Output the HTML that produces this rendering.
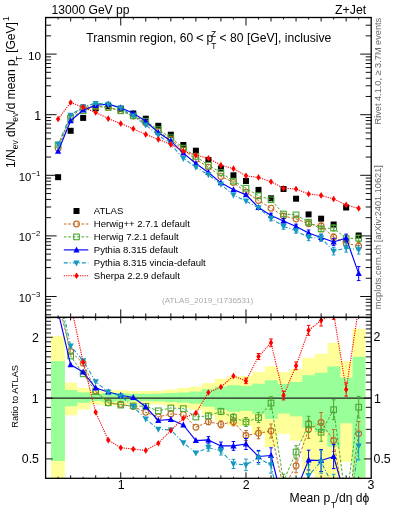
<!DOCTYPE html><html><head><meta charset="utf-8"><style>html,body{margin:0;padding:0;background:#fff;width:393px;height:512px;overflow:hidden}svg{display:block;will-change:transform}text{font-family:"Liberation Sans",sans-serif}</style></head><body>
<svg width="393" height="512" viewBox="0 0 393 512">
<defs><clipPath id="cu"><rect x="45.60" y="17.50" width="325.60" height="299.90"/></clipPath>
<clipPath id="cl"><rect x="45.60" y="317.40" width="325.60" height="160.90"/></clipPath></defs>
<g clip-path="url(#cl)">
<rect x="51.00" y="336.10" width="13.90" height="147.20" fill="#ffff99"/><rect x="64.38" y="382.70" width="13.02" height="32.60" fill="#ffff99"/><rect x="76.91" y="387.90" width="13.02" height="21.50" fill="#ffff99"/><rect x="89.43" y="390.80" width="13.02" height="13.76" fill="#ffff99"/><rect x="101.95" y="390.00" width="13.02" height="15.52" fill="#ffff99"/><rect x="114.48" y="390.20" width="13.02" height="15.08" fill="#ffff99"/><rect x="127.00" y="391.00" width="13.02" height="13.33" fill="#ffff99"/><rect x="139.52" y="391.00" width="13.02" height="13.33" fill="#ffff99"/><rect x="152.05" y="390.80" width="13.02" height="13.76" fill="#ffff99"/><rect x="164.57" y="389.50" width="13.02" height="16.64" fill="#ffff99"/><rect x="177.09" y="388.00" width="13.02" height="20.02" fill="#ffff99"/><rect x="189.62" y="386.50" width="13.02" height="23.47" fill="#ffff99"/><rect x="202.14" y="383.10" width="13.02" height="31.60" fill="#ffff99"/><rect x="214.66" y="378.80" width="13.02" height="42.58" fill="#ffff99"/><rect x="227.18" y="376.30" width="13.02" height="49.37" fill="#ffff99"/><rect x="239.71" y="376.10" width="13.02" height="49.93" fill="#ffff99"/><rect x="252.23" y="371.80" width="13.02" height="62.53" fill="#ffff99"/><rect x="264.75" y="366.20" width="13.02" height="81.04" fill="#ffff99"/><rect x="277.28" y="372.00" width="13.02" height="61.92" fill="#ffff99"/><rect x="289.80" y="368.90" width="13.02" height="71.78" fill="#ffff99"/><rect x="302.32" y="357.80" width="13.02" height="115.55" fill="#ffff99"/><rect x="314.85" y="353.80" width="13.02" height="129.50" fill="#ffff99"/><rect x="327.37" y="342.90" width="13.02" height="140.40" fill="#ffff99"/><rect x="339.89" y="361.10" width="13.02" height="100.74" fill="#ffff99"/><rect x="352.42" y="328.80" width="13.02" height="154.50" fill="#ffff99"/>
<rect x="51.00" y="361.10" width="13.90" height="99.90" fill="#99ff99"/><rect x="64.38" y="390.00" width="13.02" height="16.30" fill="#99ff99"/><rect x="76.91" y="392.40" width="13.02" height="10.40" fill="#99ff99"/><rect x="89.43" y="394.00" width="13.02" height="6.90" fill="#99ff99"/><rect x="101.95" y="393.00" width="13.02" height="9.01" fill="#99ff99"/><rect x="114.48" y="393.50" width="13.02" height="7.95" fill="#99ff99"/><rect x="127.00" y="393.80" width="13.02" height="7.32" fill="#99ff99"/><rect x="139.52" y="393.80" width="13.02" height="7.32" fill="#99ff99"/><rect x="152.05" y="393.60" width="13.02" height="7.74" fill="#99ff99"/><rect x="164.57" y="393.00" width="13.02" height="9.01" fill="#99ff99"/><rect x="177.09" y="392.50" width="13.02" height="10.08" fill="#99ff99"/><rect x="189.62" y="391.50" width="13.02" height="12.24" fill="#99ff99"/><rect x="202.14" y="389.00" width="13.02" height="17.75" fill="#99ff99"/><rect x="214.66" y="386.50" width="13.02" height="23.47" fill="#99ff99"/><rect x="227.18" y="385.20" width="13.02" height="26.53" fill="#99ff99"/><rect x="239.71" y="385.80" width="13.02" height="25.11" fill="#99ff99"/><rect x="252.23" y="383.80" width="13.02" height="29.89" fill="#99ff99"/><rect x="264.75" y="380.30" width="13.02" height="38.66" fill="#99ff99"/><rect x="277.28" y="383.90" width="13.02" height="29.65" fill="#99ff99"/><rect x="289.80" y="382.00" width="13.02" height="34.33" fill="#99ff99"/><rect x="302.32" y="375.20" width="13.02" height="52.47" fill="#99ff99"/><rect x="314.85" y="372.80" width="13.02" height="59.50" fill="#99ff99"/><rect x="327.37" y="366.40" width="13.02" height="80.33" fill="#99ff99"/><rect x="339.89" y="377.70" width="13.02" height="45.53" fill="#99ff99"/><rect x="352.42" y="356.80" width="13.02" height="120.46" fill="#99ff99"/>
<line x1="45.60" y1="398.10" x2="371.20" y2="398.10" stroke="#222" stroke-width="1.2"/>
</g>
<g clip-path="url(#cl)"><polyline points="58.12,302.00 70.65,351.50 83.17,363.20 95.69,390.80 108.22,402.80 120.74,404.30 133.26,406.60 145.78,412.30 158.31,416.90 170.83,414.00 183.35,414.60 195.88,427.20 208.40,421.80 220.92,424.40 233.45,421.80 245.97,435.50 258.49,433.30 271.02,431.00 283.54,488.00 296.06,465.80 308.58,429.30 321.11,422.50 333.63,440.50 346.15,517.00 358.68,433.60" fill="none" stroke="#c06a22" stroke-width="1.0" stroke-dasharray="2.7,1.7" stroke-linejoin="round"/><path d="M208.40 418.80L208.40 424.80M206.60 418.80L210.20 418.80M206.60 424.80L210.20 424.80M220.92 420.90L220.92 427.90M219.12 420.90L222.72 420.90M219.12 427.90L222.72 427.90M233.45 417.80L233.45 425.80M231.65 417.80L235.25 417.80M231.65 425.80L235.25 425.80M245.97 430.50L245.97 440.50M244.17 430.50L247.77 430.50M244.17 440.50L247.77 440.50M258.49 427.80L258.49 438.80M256.69 427.80L260.29 427.80M256.69 438.80L260.29 438.80M271.02 424.00L271.02 438.00M269.22 424.00L272.82 424.00M269.22 438.00L272.82 438.00M283.54 480.00L283.54 496.00M281.74 480.00L285.34 480.00M281.74 496.00L285.34 496.00M296.06 458.80L296.06 472.80M294.26 458.80L297.86 458.80M294.26 472.80L297.86 472.80M308.58 420.30L308.58 438.30M306.78 420.30L310.38 420.30M306.78 438.30L310.38 438.30M321.11 412.50L321.11 432.50M319.31 412.50L322.91 412.50M319.31 432.50L322.91 432.50M333.63 429.50L333.63 451.50M331.83 429.50L335.43 429.50M331.83 451.50L335.43 451.50M346.15 505.00L346.15 529.00M344.35 505.00L347.95 505.00M344.35 529.00L347.95 529.00M358.68 421.60L358.68 445.60M356.88 421.60L360.48 421.60M356.88 445.60L360.48 445.60" stroke="#c06a22" stroke-width="1" fill="none"/><circle cx="70.65" cy="351.50" r="2.9" fill="none" stroke="#c06a22" stroke-width="1.1"/><circle cx="83.17" cy="363.20" r="2.9" fill="none" stroke="#c06a22" stroke-width="1.1"/><circle cx="95.69" cy="390.80" r="2.9" fill="none" stroke="#c06a22" stroke-width="1.1"/><circle cx="108.22" cy="402.80" r="2.9" fill="none" stroke="#c06a22" stroke-width="1.1"/><circle cx="120.74" cy="404.30" r="2.9" fill="none" stroke="#c06a22" stroke-width="1.1"/><circle cx="133.26" cy="406.60" r="2.9" fill="none" stroke="#c06a22" stroke-width="1.1"/><circle cx="145.78" cy="412.30" r="2.9" fill="none" stroke="#c06a22" stroke-width="1.1"/><circle cx="158.31" cy="416.90" r="2.9" fill="none" stroke="#c06a22" stroke-width="1.1"/><circle cx="170.83" cy="414.00" r="2.9" fill="none" stroke="#c06a22" stroke-width="1.1"/><circle cx="183.35" cy="414.60" r="2.9" fill="none" stroke="#c06a22" stroke-width="1.1"/><circle cx="195.88" cy="427.20" r="2.9" fill="none" stroke="#c06a22" stroke-width="1.1"/><circle cx="208.40" cy="421.80" r="2.9" fill="none" stroke="#c06a22" stroke-width="1.1"/><circle cx="220.92" cy="424.40" r="2.9" fill="none" stroke="#c06a22" stroke-width="1.1"/><circle cx="233.45" cy="421.80" r="2.9" fill="none" stroke="#c06a22" stroke-width="1.1"/><circle cx="245.97" cy="435.50" r="2.9" fill="none" stroke="#c06a22" stroke-width="1.1"/><circle cx="258.49" cy="433.30" r="2.9" fill="none" stroke="#c06a22" stroke-width="1.1"/><circle cx="271.02" cy="431.00" r="2.9" fill="none" stroke="#c06a22" stroke-width="1.1"/><circle cx="296.06" cy="465.80" r="2.9" fill="none" stroke="#c06a22" stroke-width="1.1"/><circle cx="308.58" cy="429.30" r="2.9" fill="none" stroke="#c06a22" stroke-width="1.1"/><circle cx="321.11" cy="422.50" r="2.9" fill="none" stroke="#c06a22" stroke-width="1.1"/><circle cx="333.63" cy="440.50" r="2.9" fill="none" stroke="#c06a22" stroke-width="1.1"/><circle cx="358.68" cy="433.60" r="2.9" fill="none" stroke="#c06a22" stroke-width="1.1"/></g>
<g clip-path="url(#cl)"><polyline points="58.12,290.40 70.65,356.00 83.17,373.80 95.69,391.60 108.22,402.80 120.74,405.10 133.26,405.90 145.78,406.40 158.31,410.80 170.83,408.00 183.35,408.60 195.88,417.00 208.40,415.80 220.92,411.50 233.45,417.50 245.97,422.00 258.49,417.60 271.02,403.00 283.54,481.40 296.06,452.00 308.58,424.40 321.11,432.30 333.63,409.70 346.15,501.80 358.68,407.20" fill="none" stroke="#4aa832" stroke-width="1.0" stroke-dasharray="2.7,1.7" stroke-linejoin="round"/><path d="M208.40 413.10L208.40 418.50M206.60 413.10L210.20 413.10M206.60 418.50L210.20 418.50M220.92 408.35L220.92 414.65M219.12 408.35L222.72 408.35M219.12 414.65L222.72 414.65M233.45 413.90L233.45 421.10M231.65 413.90L235.25 413.90M231.65 421.10L235.25 421.10M245.97 417.50L245.97 426.50M244.17 417.50L247.77 417.50M244.17 426.50L247.77 426.50M258.49 412.65L258.49 422.55M256.69 412.65L260.29 412.65M256.69 422.55L260.29 422.55M271.02 396.70L271.02 409.30M269.22 396.70L272.82 396.70M269.22 409.30L272.82 409.30M283.54 474.20L283.54 488.60M281.74 474.20L285.34 474.20M281.74 488.60L285.34 488.60M296.06 445.70L296.06 458.30M294.26 445.70L297.86 445.70M294.26 458.30L297.86 458.30M308.58 416.30L308.58 432.50M306.78 416.30L310.38 416.30M306.78 432.50L310.38 432.50M321.11 423.30L321.11 441.30M319.31 423.30L322.91 423.30M319.31 441.30L322.91 441.30M333.63 399.80L333.63 419.60M331.83 399.80L335.43 399.80M331.83 419.60L335.43 419.60M346.15 491.00L346.15 512.60M344.35 491.00L347.95 491.00M344.35 512.60L347.95 512.60M358.68 396.40L358.68 418.00M356.88 396.40L360.48 396.40M356.88 418.00L360.48 418.00" stroke="#4aa832" stroke-width="1" fill="none"/><rect x="67.85" y="353.20" width="5.6" height="5.6" fill="none" stroke="#4aa832" stroke-width="1.1"/><rect x="80.37" y="371.00" width="5.6" height="5.6" fill="none" stroke="#4aa832" stroke-width="1.1"/><rect x="92.89" y="388.80" width="5.6" height="5.6" fill="none" stroke="#4aa832" stroke-width="1.1"/><rect x="105.42" y="400.00" width="5.6" height="5.6" fill="none" stroke="#4aa832" stroke-width="1.1"/><rect x="117.94" y="402.30" width="5.6" height="5.6" fill="none" stroke="#4aa832" stroke-width="1.1"/><rect x="130.46" y="403.10" width="5.6" height="5.6" fill="none" stroke="#4aa832" stroke-width="1.1"/><rect x="142.98" y="403.60" width="5.6" height="5.6" fill="none" stroke="#4aa832" stroke-width="1.1"/><rect x="155.51" y="408.00" width="5.6" height="5.6" fill="none" stroke="#4aa832" stroke-width="1.1"/><rect x="168.03" y="405.20" width="5.6" height="5.6" fill="none" stroke="#4aa832" stroke-width="1.1"/><rect x="180.55" y="405.80" width="5.6" height="5.6" fill="none" stroke="#4aa832" stroke-width="1.1"/><rect x="193.08" y="414.20" width="5.6" height="5.6" fill="none" stroke="#4aa832" stroke-width="1.1"/><rect x="205.60" y="413.00" width="5.6" height="5.6" fill="none" stroke="#4aa832" stroke-width="1.1"/><rect x="218.12" y="408.70" width="5.6" height="5.6" fill="none" stroke="#4aa832" stroke-width="1.1"/><rect x="230.65" y="414.70" width="5.6" height="5.6" fill="none" stroke="#4aa832" stroke-width="1.1"/><rect x="243.17" y="419.20" width="5.6" height="5.6" fill="none" stroke="#4aa832" stroke-width="1.1"/><rect x="255.69" y="414.80" width="5.6" height="5.6" fill="none" stroke="#4aa832" stroke-width="1.1"/><rect x="268.22" y="400.20" width="5.6" height="5.6" fill="none" stroke="#4aa832" stroke-width="1.1"/><rect x="280.74" y="478.60" width="5.6" height="5.6" fill="none" stroke="#4aa832" stroke-width="1.1"/><rect x="293.26" y="449.20" width="5.6" height="5.6" fill="none" stroke="#4aa832" stroke-width="1.1"/><rect x="305.78" y="421.60" width="5.6" height="5.6" fill="none" stroke="#4aa832" stroke-width="1.1"/><rect x="318.31" y="429.50" width="5.6" height="5.6" fill="none" stroke="#4aa832" stroke-width="1.1"/><rect x="330.83" y="406.90" width="5.6" height="5.6" fill="none" stroke="#4aa832" stroke-width="1.1"/><rect x="355.88" y="404.40" width="5.6" height="5.6" fill="none" stroke="#4aa832" stroke-width="1.1"/></g>
<g clip-path="url(#cl)"><polyline points="58.12,311.80 70.65,364.80 83.17,372.10 95.69,388.00 108.22,392.00 120.74,395.20 133.26,397.50 145.78,406.80 158.31,420.50 170.83,419.40 183.35,425.00 195.88,440.60 208.40,439.90 220.92,445.90 233.45,445.90 245.97,444.00 258.49,456.50 271.02,455.50 283.54,504.80 296.06,490.80 308.58,460.10 321.11,460.50 333.63,456.50 346.15,500.00 358.68,525.00" fill="none" stroke="#0000ff" stroke-width="1.15" stroke-linejoin="round"/><path d="M208.40 436.60L208.40 443.20M206.60 436.60L210.20 436.60M206.60 443.20L210.20 443.20M220.92 442.05L220.92 449.75M219.12 442.05L222.72 442.05M219.12 449.75L222.72 449.75M233.45 441.50L233.45 450.30M231.65 441.50L235.25 441.50M231.65 450.30L235.25 450.30M245.97 438.50L245.97 449.50M244.17 438.50L247.77 438.50M244.17 449.50L247.77 449.50M258.49 450.45L258.49 462.55M256.69 450.45L260.29 450.45M256.69 462.55L260.29 462.55M271.02 447.80L271.02 463.20M269.22 447.80L272.82 447.80M269.22 463.20L272.82 463.20M283.54 496.00L283.54 513.60M281.74 496.00L285.34 496.00M281.74 513.60L285.34 513.60M296.06 483.10L296.06 498.50M294.26 483.10L297.86 483.10M294.26 498.50L297.86 498.50M308.58 450.20L308.58 470.00M306.78 450.20L310.38 450.20M306.78 470.00L310.38 470.00M321.11 449.50L321.11 471.50M319.31 449.50L322.91 449.50M319.31 471.50L322.91 471.50M333.63 444.40L333.63 468.60M331.83 444.40L335.43 444.40M331.83 468.60L335.43 468.60M346.15 486.80L346.15 513.20M344.35 486.80L347.95 486.80M344.35 513.20L347.95 513.20M358.68 511.80L358.68 538.20M356.88 511.80L360.48 511.80M356.88 538.20L360.48 538.20" stroke="#0000ff" stroke-width="1" fill="none"/><path d="M70.65 361.30L73.75 367.30L67.55 367.30Z" fill="#0000ff"/><path d="M83.17 368.60L86.27 374.60L80.07 374.60Z" fill="#0000ff"/><path d="M95.69 384.50L98.79 390.50L92.59 390.50Z" fill="#0000ff"/><path d="M108.22 388.50L111.32 394.50L105.12 394.50Z" fill="#0000ff"/><path d="M120.74 391.70L123.84 397.70L117.64 397.70Z" fill="#0000ff"/><path d="M133.26 394.00L136.36 400.00L130.16 400.00Z" fill="#0000ff"/><path d="M145.78 403.30L148.88 409.30L142.68 409.30Z" fill="#0000ff"/><path d="M158.31 417.00L161.41 423.00L155.21 423.00Z" fill="#0000ff"/><path d="M170.83 415.90L173.93 421.90L167.73 421.90Z" fill="#0000ff"/><path d="M183.35 421.50L186.45 427.50L180.25 427.50Z" fill="#0000ff"/><path d="M195.88 437.10L198.98 443.10L192.78 443.10Z" fill="#0000ff"/><path d="M208.40 436.40L211.50 442.40L205.30 442.40Z" fill="#0000ff"/><path d="M220.92 442.40L224.02 448.40L217.82 448.40Z" fill="#0000ff"/><path d="M233.45 442.40L236.55 448.40L230.35 448.40Z" fill="#0000ff"/><path d="M245.97 440.50L249.07 446.50L242.87 446.50Z" fill="#0000ff"/><path d="M258.49 453.00L261.59 459.00L255.39 459.00Z" fill="#0000ff"/><path d="M271.02 452.00L274.12 458.00L267.92 458.00Z" fill="#0000ff"/><path d="M308.58 456.60L311.68 462.60L305.48 462.60Z" fill="#0000ff"/><path d="M321.11 457.00L324.21 463.00L318.01 463.00Z" fill="#0000ff"/><path d="M333.63 453.00L336.73 459.00L330.53 459.00Z" fill="#0000ff"/></g>
<g clip-path="url(#cl)"><polyline points="58.12,288.40 70.65,346.00 83.17,360.80 95.69,381.70 108.22,392.10 120.74,396.00 133.26,406.60 145.78,418.90 158.31,429.30 170.83,430.00 183.35,442.70 195.88,453.00 208.40,447.60 220.92,451.00 233.45,463.90 245.97,464.90 258.49,457.90 271.02,465.10 283.54,523.00 296.06,505.00 308.58,475.40 321.11,461.70 333.63,487.00 346.15,533.00 358.68,446.00" fill="none" stroke="#1598c0" stroke-width="1.1" stroke-dasharray="4,2,1,2" stroke-linejoin="round"/><path d="M208.40 444.15L208.40 451.05M206.60 444.15L210.20 444.15M206.60 451.05L210.20 451.05M220.92 446.98L220.92 455.02M219.12 446.98L222.72 446.98M219.12 455.02L222.72 455.02M233.45 459.30L233.45 468.50M231.65 459.30L235.25 459.30M231.65 468.50L235.25 468.50M245.97 459.15L245.97 470.65M244.17 459.15L247.77 459.15M244.17 470.65L247.77 470.65M258.49 451.57L258.49 464.22M256.69 451.57L260.29 451.57M256.69 464.22L260.29 464.22M271.02 457.05L271.02 473.15M269.22 457.05L272.82 457.05M269.22 473.15L272.82 473.15M283.54 513.80L283.54 532.20M281.74 513.80L285.34 513.80M281.74 532.20L285.34 532.20M296.06 496.95L296.06 513.05M294.26 496.95L297.86 496.95M294.26 513.05L297.86 513.05M308.58 465.05L308.58 485.75M306.78 465.05L310.38 465.05M306.78 485.75L310.38 485.75M321.11 450.20L321.11 473.20M319.31 450.20L322.91 450.20M319.31 473.20L322.91 473.20M333.63 474.35L333.63 499.65M331.83 474.35L335.43 474.35M331.83 499.65L335.43 499.65M346.15 519.20L346.15 546.80M344.35 519.20L347.95 519.20M344.35 546.80L347.95 546.80M358.68 432.20L358.68 459.80M356.88 432.20L360.48 432.20M356.88 459.80L360.48 459.80" stroke="#1598c0" stroke-width="1" fill="none"/><path d="M70.65 349.50L73.75 343.50L67.55 343.50Z" fill="#1598c0"/><path d="M83.17 364.30L86.27 358.30L80.07 358.30Z" fill="#1598c0"/><path d="M95.69 385.20L98.79 379.20L92.59 379.20Z" fill="#1598c0"/><path d="M108.22 395.60L111.32 389.60L105.12 389.60Z" fill="#1598c0"/><path d="M120.74 399.50L123.84 393.50L117.64 393.50Z" fill="#1598c0"/><path d="M133.26 410.10L136.36 404.10L130.16 404.10Z" fill="#1598c0"/><path d="M145.78 422.40L148.88 416.40L142.68 416.40Z" fill="#1598c0"/><path d="M158.31 432.80L161.41 426.80L155.21 426.80Z" fill="#1598c0"/><path d="M170.83 433.50L173.93 427.50L167.73 427.50Z" fill="#1598c0"/><path d="M183.35 446.20L186.45 440.20L180.25 440.20Z" fill="#1598c0"/><path d="M195.88 456.50L198.98 450.50L192.78 450.50Z" fill="#1598c0"/><path d="M208.40 451.10L211.50 445.10L205.30 445.10Z" fill="#1598c0"/><path d="M220.92 454.50L224.02 448.50L217.82 448.50Z" fill="#1598c0"/><path d="M233.45 467.40L236.55 461.40L230.35 461.40Z" fill="#1598c0"/><path d="M245.97 468.40L249.07 462.40L242.87 462.40Z" fill="#1598c0"/><path d="M258.49 461.40L261.59 455.40L255.39 455.40Z" fill="#1598c0"/><path d="M271.02 468.60L274.12 462.60L267.92 462.60Z" fill="#1598c0"/><path d="M308.58 478.90L311.68 472.90L305.48 472.90Z" fill="#1598c0"/><path d="M321.11 465.20L324.21 459.20L318.01 459.20Z" fill="#1598c0"/><path d="M358.68 449.50L361.78 443.50L355.58 443.50Z" fill="#1598c0"/></g>
<g clip-path="url(#cl)"><polyline points="58.12,204.00 70.65,304.00 83.17,362.40 95.69,412.20 108.22,440.10 120.74,447.70 133.26,449.10 145.78,450.40 158.31,443.30 170.83,430.40 183.35,418.30 195.88,413.00 208.40,392.50 220.92,387.00 233.45,376.00 245.97,380.90 258.49,356.50 271.02,342.80 283.54,395.50 296.06,365.80 308.58,330.30 321.11,320.50 333.63,313.30 346.15,389.50 358.68,307.60" fill="none" stroke="#ff0000" stroke-width="1.1" stroke-dasharray="1.2,1.1" stroke-linejoin="round"/><path d="M245.97 378.15L245.97 383.65M244.17 378.15L247.77 378.15M244.17 383.65L247.77 383.65M258.49 353.48L258.49 359.52M256.69 353.48L260.29 353.48M256.69 359.52L260.29 359.52M271.02 338.95L271.02 346.65M269.22 338.95L272.82 338.95M269.22 346.65L272.82 346.65M283.54 391.10L283.54 399.90M281.74 391.10L285.34 391.10M281.74 399.90L285.34 399.90M296.06 361.95L296.06 369.65M294.26 361.95L297.86 361.95M294.26 369.65L297.86 369.65M308.58 325.35L308.58 335.25M306.78 325.35L310.38 325.35M306.78 335.25L310.38 335.25M321.11 315.00L321.11 326.00M319.31 315.00L322.91 315.00M319.31 326.00L322.91 326.00M333.63 307.25L333.63 319.35M331.83 307.25L335.43 307.25M331.83 319.35L335.43 319.35M346.15 382.90L346.15 396.10M344.35 382.90L347.95 382.90M344.35 396.10L347.95 396.10M358.68 301.00L358.68 314.20M356.88 301.00L360.48 301.00M356.88 314.20L360.48 314.20" stroke="#ff0000" stroke-width="1" fill="none"/><path d="M83.17 359.10L85.37 362.40L83.17 365.70L80.97 362.40Z" fill="#ff0000"/><path d="M95.69 408.90L97.89 412.20L95.69 415.50L93.49 412.20Z" fill="#ff0000"/><path d="M108.22 436.80L110.42 440.10L108.22 443.40L106.02 440.10Z" fill="#ff0000"/><path d="M120.74 444.40L122.94 447.70L120.74 451.00L118.54 447.70Z" fill="#ff0000"/><path d="M133.26 445.80L135.46 449.10L133.26 452.40L131.06 449.10Z" fill="#ff0000"/><path d="M145.78 447.10L147.98 450.40L145.78 453.70L143.58 450.40Z" fill="#ff0000"/><path d="M158.31 440.00L160.51 443.30L158.31 446.60L156.11 443.30Z" fill="#ff0000"/><path d="M170.83 427.10L173.03 430.40L170.83 433.70L168.63 430.40Z" fill="#ff0000"/><path d="M183.35 415.00L185.55 418.30L183.35 421.60L181.15 418.30Z" fill="#ff0000"/><path d="M195.88 409.70L198.08 413.00L195.88 416.30L193.68 413.00Z" fill="#ff0000"/><path d="M208.40 389.20L210.60 392.50L208.40 395.80L206.20 392.50Z" fill="#ff0000"/><path d="M220.92 383.70L223.12 387.00L220.92 390.30L218.72 387.00Z" fill="#ff0000"/><path d="M233.45 372.70L235.65 376.00L233.45 379.30L231.25 376.00Z" fill="#ff0000"/><path d="M245.97 377.60L248.17 380.90L245.97 384.20L243.77 380.90Z" fill="#ff0000"/><path d="M258.49 353.20L260.69 356.50L258.49 359.80L256.29 356.50Z" fill="#ff0000"/><path d="M271.02 339.50L273.22 342.80L271.02 346.10L268.82 342.80Z" fill="#ff0000"/><path d="M283.54 392.20L285.74 395.50L283.54 398.80L281.34 395.50Z" fill="#ff0000"/><path d="M296.06 362.50L298.26 365.80L296.06 369.10L293.86 365.80Z" fill="#ff0000"/><path d="M308.58 327.00L310.78 330.30L308.58 333.60L306.38 330.30Z" fill="#ff0000"/><path d="M321.11 317.20L323.31 320.50L321.11 323.80L318.91 320.50Z" fill="#ff0000"/><path d="M346.15 386.20L348.35 389.50L346.15 392.80L343.95 389.50Z" fill="#ff0000"/></g>
<text x="207.6" y="303.0" font-size="8.1" fill="#aaa" text-anchor="middle">(ATLAS_2019_I1736531)</text>
<g clip-path="url(#cu)">
<rect x="55.12" y="174.20" width="6" height="6" fill="#000"/>
<rect x="67.65" y="127.80" width="6" height="6" fill="#000"/>
<rect x="80.17" y="114.90" width="6" height="6" fill="#000"/>
<rect x="92.69" y="105.30" width="6" height="6" fill="#000"/>
<rect x="105.22" y="103.00" width="6" height="6" fill="#000"/>
<rect x="117.74" y="105.70" width="6" height="6" fill="#000"/>
<rect x="130.26" y="110.50" width="6" height="6" fill="#000"/>
<rect x="142.78" y="115.70" width="6" height="6" fill="#000"/>
<rect x="155.31" y="122.80" width="6" height="6" fill="#000"/>
<rect x="167.83" y="131.70" width="6" height="6" fill="#000"/>
<rect x="180.35" y="142.00" width="6" height="6" fill="#000"/>
<rect x="192.88" y="147.70" width="6" height="6" fill="#000"/>
<rect x="205.40" y="157.00" width="6" height="6" fill="#000"/>
<rect x="217.92" y="165.50" width="6" height="6" fill="#000"/>
<rect x="230.45" y="172.30" width="6" height="6" fill="#000"/>
<rect x="242.97" y="178.00" width="6" height="6" fill="#000"/>
<rect x="255.49" y="186.90" width="6" height="6" fill="#000"/>
<rect x="268.02" y="195.30" width="6" height="6" fill="#000"/>
<rect x="280.54" y="186.00" width="6" height="6" fill="#000"/>
<rect x="293.06" y="195.70" width="6" height="6" fill="#000"/>
<rect x="305.58" y="211.40" width="6" height="6" fill="#000"/>
<rect x="318.11" y="215.70" width="6" height="6" fill="#000"/>
<rect x="330.63" y="221.50" width="6" height="6" fill="#000"/>
<rect x="343.15" y="204.50" width="6" height="6" fill="#000"/>
<rect x="355.68" y="232.50" width="6" height="6" fill="#000"/>
</g>
<g clip-path="url(#cu)"><polyline points="58.12,148.37 70.65,116.82 83.17,107.43 95.69,106.11 108.22,107.41 120.74,110.56 133.26,116.05 145.78,122.96 158.31,131.44 170.83,139.47 183.35,149.95 195.88,159.43 208.40,167.11 220.92,176.39 233.45,182.41 245.97,192.22 258.49,200.46 271.02,208.17 283.54,215.97 296.06,219.01 308.58,223.76 321.11,226.02 333.63,237.22 346.15,243.17 358.68,246.15" fill="none" stroke="#c06a22" stroke-width="1.0" stroke-dasharray="2.7,1.7" stroke-linejoin="round"/><path d="M283.54 213.57L283.54 218.37M281.74 213.57L285.34 213.57M281.74 218.37L285.34 218.37M308.58 221.06L308.58 226.46M306.78 221.06L310.38 221.06M306.78 226.46L310.38 226.46M321.11 223.02L321.11 229.02M319.31 223.02L322.91 223.02M319.31 229.02L322.91 229.02M333.63 233.92L333.63 240.52M331.83 233.92L335.43 233.92M331.83 240.52L335.43 240.52M346.15 239.57L346.15 246.77M344.35 239.57L347.95 239.57M344.35 246.77L347.95 246.77M358.68 242.55L358.68 249.75M356.88 242.55L360.48 242.55M356.88 249.75L360.48 249.75" stroke="#c06a22" stroke-width="1" fill="none"/><circle cx="58.12" cy="148.37" r="2.9" fill="none" stroke="#c06a22" stroke-width="1.1"/><circle cx="70.65" cy="116.82" r="2.9" fill="none" stroke="#c06a22" stroke-width="1.1"/><circle cx="83.17" cy="107.43" r="2.9" fill="none" stroke="#c06a22" stroke-width="1.1"/><circle cx="95.69" cy="106.11" r="2.9" fill="none" stroke="#c06a22" stroke-width="1.1"/><circle cx="108.22" cy="107.41" r="2.9" fill="none" stroke="#c06a22" stroke-width="1.1"/><circle cx="120.74" cy="110.56" r="2.9" fill="none" stroke="#c06a22" stroke-width="1.1"/><circle cx="133.26" cy="116.05" r="2.9" fill="none" stroke="#c06a22" stroke-width="1.1"/><circle cx="145.78" cy="122.96" r="2.9" fill="none" stroke="#c06a22" stroke-width="1.1"/><circle cx="158.31" cy="131.44" r="2.9" fill="none" stroke="#c06a22" stroke-width="1.1"/><circle cx="170.83" cy="139.47" r="2.9" fill="none" stroke="#c06a22" stroke-width="1.1"/><circle cx="183.35" cy="149.95" r="2.9" fill="none" stroke="#c06a22" stroke-width="1.1"/><circle cx="195.88" cy="159.43" r="2.9" fill="none" stroke="#c06a22" stroke-width="1.1"/><circle cx="208.40" cy="167.11" r="2.9" fill="none" stroke="#c06a22" stroke-width="1.1"/><circle cx="220.92" cy="176.39" r="2.9" fill="none" stroke="#c06a22" stroke-width="1.1"/><circle cx="233.45" cy="182.41" r="2.9" fill="none" stroke="#c06a22" stroke-width="1.1"/><circle cx="245.97" cy="192.22" r="2.9" fill="none" stroke="#c06a22" stroke-width="1.1"/><circle cx="258.49" cy="200.46" r="2.9" fill="none" stroke="#c06a22" stroke-width="1.1"/><circle cx="271.02" cy="208.17" r="2.9" fill="none" stroke="#c06a22" stroke-width="1.1"/><circle cx="283.54" cy="215.97" r="2.9" fill="none" stroke="#c06a22" stroke-width="1.1"/><circle cx="296.06" cy="219.01" r="2.9" fill="none" stroke="#c06a22" stroke-width="1.1"/><circle cx="308.58" cy="223.76" r="2.9" fill="none" stroke="#c06a22" stroke-width="1.1"/><circle cx="321.11" cy="226.02" r="2.9" fill="none" stroke="#c06a22" stroke-width="1.1"/><circle cx="333.63" cy="237.22" r="2.9" fill="none" stroke="#c06a22" stroke-width="1.1"/><circle cx="346.15" cy="243.17" r="2.9" fill="none" stroke="#c06a22" stroke-width="1.1"/><circle cx="358.68" cy="246.15" r="2.9" fill="none" stroke="#c06a22" stroke-width="1.1"/></g>
<g clip-path="url(#cu)"><polyline points="58.12,144.89 70.65,118.17 83.17,110.61 95.69,106.35 108.22,107.41 120.74,110.80 133.26,115.84 145.78,121.19 158.31,129.61 170.83,137.67 183.35,148.15 195.88,156.37 208.40,165.31 220.92,172.52 233.45,181.12 245.97,188.17 258.49,195.75 271.02,199.77 283.54,213.99 296.06,214.87 308.58,222.29 321.11,228.96 333.63,227.98 346.15,238.61 358.68,238.23" fill="none" stroke="#4aa832" stroke-width="1.0" stroke-dasharray="2.7,1.7" stroke-linejoin="round"/><path d="M308.58 219.86L308.58 224.72M306.78 219.86L310.38 219.86M306.78 224.72L310.38 224.72M321.11 226.26L321.11 231.66M319.31 226.26L322.91 226.26M319.31 231.66L322.91 231.66M333.63 225.01L333.63 230.95M331.83 225.01L335.43 225.01M331.83 230.95L335.43 230.95M346.15 235.37L346.15 241.85M344.35 235.37L347.95 235.37M344.35 241.85L347.95 241.85M358.68 234.99L358.68 241.47M356.88 234.99L360.48 234.99M356.88 241.47L360.48 241.47" stroke="#4aa832" stroke-width="1" fill="none"/><rect x="55.32" y="142.09" width="5.6" height="5.6" fill="none" stroke="#4aa832" stroke-width="1.1"/><rect x="67.85" y="115.37" width="5.6" height="5.6" fill="none" stroke="#4aa832" stroke-width="1.1"/><rect x="80.37" y="107.81" width="5.6" height="5.6" fill="none" stroke="#4aa832" stroke-width="1.1"/><rect x="92.89" y="103.55" width="5.6" height="5.6" fill="none" stroke="#4aa832" stroke-width="1.1"/><rect x="105.42" y="104.61" width="5.6" height="5.6" fill="none" stroke="#4aa832" stroke-width="1.1"/><rect x="117.94" y="108.00" width="5.6" height="5.6" fill="none" stroke="#4aa832" stroke-width="1.1"/><rect x="130.46" y="113.04" width="5.6" height="5.6" fill="none" stroke="#4aa832" stroke-width="1.1"/><rect x="142.98" y="118.39" width="5.6" height="5.6" fill="none" stroke="#4aa832" stroke-width="1.1"/><rect x="155.51" y="126.81" width="5.6" height="5.6" fill="none" stroke="#4aa832" stroke-width="1.1"/><rect x="168.03" y="134.87" width="5.6" height="5.6" fill="none" stroke="#4aa832" stroke-width="1.1"/><rect x="180.55" y="145.35" width="5.6" height="5.6" fill="none" stroke="#4aa832" stroke-width="1.1"/><rect x="193.08" y="153.57" width="5.6" height="5.6" fill="none" stroke="#4aa832" stroke-width="1.1"/><rect x="205.60" y="162.51" width="5.6" height="5.6" fill="none" stroke="#4aa832" stroke-width="1.1"/><rect x="218.12" y="169.72" width="5.6" height="5.6" fill="none" stroke="#4aa832" stroke-width="1.1"/><rect x="230.65" y="178.32" width="5.6" height="5.6" fill="none" stroke="#4aa832" stroke-width="1.1"/><rect x="243.17" y="185.37" width="5.6" height="5.6" fill="none" stroke="#4aa832" stroke-width="1.1"/><rect x="255.69" y="192.95" width="5.6" height="5.6" fill="none" stroke="#4aa832" stroke-width="1.1"/><rect x="268.22" y="196.97" width="5.6" height="5.6" fill="none" stroke="#4aa832" stroke-width="1.1"/><rect x="280.74" y="211.19" width="5.6" height="5.6" fill="none" stroke="#4aa832" stroke-width="1.1"/><rect x="293.26" y="212.07" width="5.6" height="5.6" fill="none" stroke="#4aa832" stroke-width="1.1"/><rect x="305.78" y="219.49" width="5.6" height="5.6" fill="none" stroke="#4aa832" stroke-width="1.1"/><rect x="318.31" y="226.16" width="5.6" height="5.6" fill="none" stroke="#4aa832" stroke-width="1.1"/><rect x="330.83" y="225.18" width="5.6" height="5.6" fill="none" stroke="#4aa832" stroke-width="1.1"/><rect x="343.35" y="235.81" width="5.6" height="5.6" fill="none" stroke="#4aa832" stroke-width="1.1"/><rect x="355.88" y="235.43" width="5.6" height="5.6" fill="none" stroke="#4aa832" stroke-width="1.1"/></g>
<g clip-path="url(#cu)"><polyline points="58.12,151.31 70.65,120.81 83.17,110.10 95.69,105.27 108.22,104.17 120.74,107.83 133.26,113.32 145.78,121.31 158.31,132.52 170.83,141.09 183.35,153.07 195.88,163.45 208.40,172.54 220.92,182.84 233.45,189.64 245.97,194.77 258.49,207.42 271.02,215.52 283.54,221.01 296.06,226.51 308.58,233.00 321.11,237.42 333.63,242.02 346.15,238.07 358.68,273.57" fill="none" stroke="#0000ff" stroke-width="1.15" stroke-linejoin="round"/><path d="M271.02 213.21L271.02 217.83M269.22 213.21L272.82 213.21M269.22 217.83L272.82 217.83M283.54 218.37L283.54 223.65M281.74 218.37L285.34 218.37M281.74 223.65L285.34 223.65M296.06 224.20L296.06 228.82M294.26 224.20L297.86 224.20M294.26 228.82L297.86 228.82M308.58 230.03L308.58 235.97M306.78 230.03L310.38 230.03M306.78 235.97L310.38 235.97M321.11 234.12L321.11 240.72M319.31 234.12L322.91 234.12M319.31 240.72L322.91 240.72M333.63 238.39L333.63 245.65M331.83 238.39L335.43 238.39M331.83 245.65L335.43 245.65M346.15 234.11L346.15 242.03M344.35 234.11L347.95 234.11M344.35 242.03L347.95 242.03M358.68 266.57L358.68 280.57M356.88 266.57L360.48 266.57M356.88 280.57L360.48 280.57" stroke="#0000ff" stroke-width="1" fill="none"/><path d="M58.12 147.81L61.22 153.81L55.02 153.81Z" fill="#0000ff"/><path d="M70.65 117.31L73.75 123.31L67.55 123.31Z" fill="#0000ff"/><path d="M83.17 106.60L86.27 112.60L80.07 112.60Z" fill="#0000ff"/><path d="M95.69 101.77L98.79 107.77L92.59 107.77Z" fill="#0000ff"/><path d="M108.22 100.67L111.32 106.67L105.12 106.67Z" fill="#0000ff"/><path d="M120.74 104.33L123.84 110.33L117.64 110.33Z" fill="#0000ff"/><path d="M133.26 109.82L136.36 115.82L130.16 115.82Z" fill="#0000ff"/><path d="M145.78 117.81L148.88 123.81L142.68 123.81Z" fill="#0000ff"/><path d="M158.31 129.02L161.41 135.02L155.21 135.02Z" fill="#0000ff"/><path d="M170.83 137.59L173.93 143.59L167.73 143.59Z" fill="#0000ff"/><path d="M183.35 149.57L186.45 155.57L180.25 155.57Z" fill="#0000ff"/><path d="M195.88 159.95L198.98 165.95L192.78 165.95Z" fill="#0000ff"/><path d="M208.40 169.04L211.50 175.04L205.30 175.04Z" fill="#0000ff"/><path d="M220.92 179.34L224.02 185.34L217.82 185.34Z" fill="#0000ff"/><path d="M233.45 186.14L236.55 192.14L230.35 192.14Z" fill="#0000ff"/><path d="M245.97 191.27L249.07 197.27L242.87 197.27Z" fill="#0000ff"/><path d="M258.49 203.92L261.59 209.92L255.39 209.92Z" fill="#0000ff"/><path d="M271.02 212.02L274.12 218.02L267.92 218.02Z" fill="#0000ff"/><path d="M283.54 217.51L286.64 223.51L280.44 223.51Z" fill="#0000ff"/><path d="M296.06 223.01L299.16 229.01L292.96 229.01Z" fill="#0000ff"/><path d="M308.58 229.50L311.68 235.50L305.48 235.50Z" fill="#0000ff"/><path d="M321.11 233.92L324.21 239.92L318.01 239.92Z" fill="#0000ff"/><path d="M333.63 238.52L336.73 244.52L330.53 244.52Z" fill="#0000ff"/><path d="M346.15 234.57L349.25 240.57L343.05 240.57Z" fill="#0000ff"/><path d="M358.68 270.07L361.78 276.07L355.58 276.07Z" fill="#0000ff"/></g>
<g clip-path="url(#cu)"><polyline points="58.12,144.29 70.65,115.17 83.17,106.71 95.69,103.38 108.22,104.20 120.74,108.07 133.26,116.05 145.78,124.94 158.31,135.16 170.83,144.27 183.35,158.38 195.88,167.17 208.40,174.85 220.92,184.37 233.45,195.04 245.97,201.04 258.49,207.84 271.02,218.40 283.54,226.47 296.06,230.77 308.58,237.59 321.11,237.78 333.63,251.17 346.15,247.97 358.68,249.87" fill="none" stroke="#1598c0" stroke-width="1.1" stroke-dasharray="4,2,1,2" stroke-linejoin="round"/><path d="M271.02 215.99L271.02 220.81M269.22 215.99L272.82 215.99M269.22 220.81L272.82 220.81M283.54 223.71L283.54 229.23M281.74 223.71L285.34 223.71M281.74 229.23L285.34 229.23M296.06 228.35L296.06 233.18M294.26 228.35L297.86 228.35M294.26 233.18L297.86 233.18M308.58 234.49L308.58 240.69M306.78 234.49L310.38 234.49M306.78 240.69L310.38 240.69M321.11 234.33L321.11 241.23M319.31 234.33L322.91 234.33M319.31 241.23L322.91 241.23M333.63 247.38L333.63 254.96M331.83 247.38L335.43 247.38M331.83 254.96L335.43 254.96M346.15 243.83L346.15 252.11M344.35 243.83L347.95 243.83M344.35 252.11L347.95 252.11M358.68 245.73L358.68 254.01M356.88 245.73L360.48 245.73M356.88 254.01L360.48 254.01" stroke="#1598c0" stroke-width="1" fill="none"/><path d="M58.12 147.79L61.22 141.79L55.02 141.79Z" fill="#1598c0"/><path d="M70.65 118.67L73.75 112.67L67.55 112.67Z" fill="#1598c0"/><path d="M83.17 110.21L86.27 104.21L80.07 104.21Z" fill="#1598c0"/><path d="M95.69 106.88L98.79 100.88L92.59 100.88Z" fill="#1598c0"/><path d="M108.22 107.70L111.32 101.70L105.12 101.70Z" fill="#1598c0"/><path d="M120.74 111.57L123.84 105.57L117.64 105.57Z" fill="#1598c0"/><path d="M133.26 119.55L136.36 113.55L130.16 113.55Z" fill="#1598c0"/><path d="M145.78 128.44L148.88 122.44L142.68 122.44Z" fill="#1598c0"/><path d="M158.31 138.66L161.41 132.66L155.21 132.66Z" fill="#1598c0"/><path d="M170.83 147.77L173.93 141.77L167.73 141.77Z" fill="#1598c0"/><path d="M183.35 161.88L186.45 155.88L180.25 155.88Z" fill="#1598c0"/><path d="M195.88 170.67L198.98 164.67L192.78 164.67Z" fill="#1598c0"/><path d="M208.40 178.35L211.50 172.35L205.30 172.35Z" fill="#1598c0"/><path d="M220.92 187.87L224.02 181.87L217.82 181.87Z" fill="#1598c0"/><path d="M233.45 198.54L236.55 192.54L230.35 192.54Z" fill="#1598c0"/><path d="M245.97 204.54L249.07 198.54L242.87 198.54Z" fill="#1598c0"/><path d="M258.49 211.34L261.59 205.34L255.39 205.34Z" fill="#1598c0"/><path d="M271.02 221.90L274.12 215.90L267.92 215.90Z" fill="#1598c0"/><path d="M283.54 229.97L286.64 223.97L280.44 223.97Z" fill="#1598c0"/><path d="M296.06 234.27L299.16 228.27L292.96 228.27Z" fill="#1598c0"/><path d="M308.58 241.09L311.68 235.09L305.48 235.09Z" fill="#1598c0"/><path d="M321.11 241.28L324.21 235.28L318.01 235.28Z" fill="#1598c0"/><path d="M333.63 254.67L336.73 248.67L330.53 248.67Z" fill="#1598c0"/><path d="M346.15 251.47L349.25 245.47L343.05 245.47Z" fill="#1598c0"/><path d="M358.68 253.37L361.78 247.37L355.58 247.37Z" fill="#1598c0"/></g>
<g clip-path="url(#cu)"><polyline points="58.12,118.97 70.65,102.57 83.17,107.19 95.69,112.53 108.22,118.60 120.74,123.58 133.26,128.80 145.78,134.39 158.31,139.36 170.83,144.39 183.35,151.06 195.88,155.17 208.40,158.32 220.92,165.17 233.45,168.67 245.97,175.84 258.49,177.42 271.02,181.71 283.54,188.22 296.06,189.01 308.58,194.06 321.11,195.42 333.63,199.06 346.15,204.92 358.68,208.35" fill="none" stroke="#ff0000" stroke-width="1.1" stroke-dasharray="1.2,1.1" stroke-linejoin="round"/><path d="M58.12 115.67L60.32 118.97L58.12 122.27L55.92 118.97Z" fill="#ff0000"/><path d="M70.65 99.27L72.85 102.57L70.65 105.87L68.45 102.57Z" fill="#ff0000"/><path d="M83.17 103.89L85.37 107.19L83.17 110.49L80.97 107.19Z" fill="#ff0000"/><path d="M95.69 109.23L97.89 112.53L95.69 115.83L93.49 112.53Z" fill="#ff0000"/><path d="M108.22 115.30L110.42 118.60L108.22 121.90L106.02 118.60Z" fill="#ff0000"/><path d="M120.74 120.28L122.94 123.58L120.74 126.88L118.54 123.58Z" fill="#ff0000"/><path d="M133.26 125.50L135.46 128.80L133.26 132.10L131.06 128.80Z" fill="#ff0000"/><path d="M145.78 131.09L147.98 134.39L145.78 137.69L143.58 134.39Z" fill="#ff0000"/><path d="M158.31 136.06L160.51 139.36L158.31 142.66L156.11 139.36Z" fill="#ff0000"/><path d="M170.83 141.09L173.03 144.39L170.83 147.69L168.63 144.39Z" fill="#ff0000"/><path d="M183.35 147.76L185.55 151.06L183.35 154.36L181.15 151.06Z" fill="#ff0000"/><path d="M195.88 151.87L198.08 155.17L195.88 158.47L193.68 155.17Z" fill="#ff0000"/><path d="M208.40 155.02L210.60 158.32L208.40 161.62L206.20 158.32Z" fill="#ff0000"/><path d="M220.92 161.87L223.12 165.17L220.92 168.47L218.72 165.17Z" fill="#ff0000"/><path d="M233.45 165.37L235.65 168.67L233.45 171.97L231.25 168.67Z" fill="#ff0000"/><path d="M245.97 172.54L248.17 175.84L245.97 179.14L243.77 175.84Z" fill="#ff0000"/><path d="M258.49 174.12L260.69 177.42L258.49 180.72L256.29 177.42Z" fill="#ff0000"/><path d="M271.02 178.41L273.22 181.71L271.02 185.01L268.82 181.71Z" fill="#ff0000"/><path d="M283.54 184.92L285.74 188.22L283.54 191.52L281.34 188.22Z" fill="#ff0000"/><path d="M296.06 185.71L298.26 189.01L296.06 192.31L293.86 189.01Z" fill="#ff0000"/><path d="M308.58 190.76L310.78 194.06L308.58 197.36L306.38 194.06Z" fill="#ff0000"/><path d="M321.11 192.12L323.31 195.42L321.11 198.72L318.91 195.42Z" fill="#ff0000"/><path d="M333.63 195.76L335.83 199.06L333.63 202.36L331.43 199.06Z" fill="#ff0000"/><path d="M346.15 201.62L348.35 204.92L346.15 208.22L343.95 204.92Z" fill="#ff0000"/><path d="M358.68 205.05L360.88 208.35L358.68 211.65L356.48 208.35Z" fill="#ff0000"/></g>
<rect x="45.60" y="17.50" width="325.60" height="299.90" fill="none" stroke="#000" stroke-width="1.3"/>
<rect x="45.60" y="317.40" width="325.60" height="160.90" fill="none" stroke="#000" stroke-width="1.3"/>
<path d="M58.12 17.50L58.12 19.50M58.12 317.40L58.12 315.40M58.12 317.40L58.12 318.90M58.12 478.30L58.12 476.80M70.65 17.50L70.65 21.50M70.65 317.40L70.65 313.40M70.65 317.40L70.65 320.40M70.65 478.30L70.65 475.30M83.17 17.50L83.17 19.50M83.17 317.40L83.17 315.40M83.17 317.40L83.17 318.90M83.17 478.30L83.17 476.80M95.69 17.50L95.69 21.50M95.69 317.40L95.69 313.40M95.69 317.40L95.69 320.40M95.69 478.30L95.69 475.30M108.22 17.50L108.22 19.50M108.22 317.40L108.22 315.40M108.22 317.40L108.22 318.90M108.22 478.30L108.22 476.80M120.74 17.50L120.74 25.50M120.74 317.40L120.74 309.40M120.74 317.40L120.74 323.40M120.74 478.30L120.74 472.30M133.26 17.50L133.26 19.50M133.26 317.40L133.26 315.40M133.26 317.40L133.26 318.90M133.26 478.30L133.26 476.80M145.78 17.50L145.78 21.50M145.78 317.40L145.78 313.40M145.78 317.40L145.78 320.40M145.78 478.30L145.78 475.30M158.31 17.50L158.31 19.50M158.31 317.40L158.31 315.40M158.31 317.40L158.31 318.90M158.31 478.30L158.31 476.80M170.83 17.50L170.83 21.50M170.83 317.40L170.83 313.40M170.83 317.40L170.83 320.40M170.83 478.30L170.83 475.30M183.35 17.50L183.35 19.50M183.35 317.40L183.35 315.40M183.35 317.40L183.35 318.90M183.35 478.30L183.35 476.80M195.88 17.50L195.88 21.50M195.88 317.40L195.88 313.40M195.88 317.40L195.88 320.40M195.88 478.30L195.88 475.30M208.40 17.50L208.40 19.50M208.40 317.40L208.40 315.40M208.40 317.40L208.40 318.90M208.40 478.30L208.40 476.80M220.92 17.50L220.92 21.50M220.92 317.40L220.92 313.40M220.92 317.40L220.92 320.40M220.92 478.30L220.92 475.30M233.45 17.50L233.45 19.50M233.45 317.40L233.45 315.40M233.45 317.40L233.45 318.90M233.45 478.30L233.45 476.80M245.97 17.50L245.97 25.50M245.97 317.40L245.97 309.40M245.97 317.40L245.97 323.40M245.97 478.30L245.97 472.30M258.49 17.50L258.49 19.50M258.49 317.40L258.49 315.40M258.49 317.40L258.49 318.90M258.49 478.30L258.49 476.80M271.02 17.50L271.02 21.50M271.02 317.40L271.02 313.40M271.02 317.40L271.02 320.40M271.02 478.30L271.02 475.30M283.54 17.50L283.54 19.50M283.54 317.40L283.54 315.40M283.54 317.40L283.54 318.90M283.54 478.30L283.54 476.80M296.06 17.50L296.06 21.50M296.06 317.40L296.06 313.40M296.06 317.40L296.06 320.40M296.06 478.30L296.06 475.30M308.58 17.50L308.58 19.50M308.58 317.40L308.58 315.40M308.58 317.40L308.58 318.90M308.58 478.30L308.58 476.80M321.11 17.50L321.11 21.50M321.11 317.40L321.11 313.40M321.11 317.40L321.11 320.40M321.11 478.30L321.11 475.30M333.63 17.50L333.63 19.50M333.63 317.40L333.63 315.40M333.63 317.40L333.63 318.90M333.63 478.30L333.63 476.80M346.15 17.50L346.15 21.50M346.15 317.40L346.15 313.40M346.15 317.40L346.15 320.40M346.15 478.30L346.15 475.30M358.68 17.50L358.68 19.50M358.68 317.40L358.68 315.40M358.68 317.40L358.68 318.90M358.68 478.30L358.68 476.80M45.60 314.74L51.10 314.74M371.20 314.74L365.70 314.74M45.60 309.94L51.10 309.94M371.20 309.94L365.70 309.94M45.60 305.89L51.10 305.89M371.20 305.89L365.70 305.89M45.60 302.37L51.10 302.37M371.20 302.37L365.70 302.37M45.60 299.27L51.10 299.27M371.20 299.27L365.70 299.27M45.60 296.50L56.60 296.50M371.20 296.50L360.20 296.50M45.60 278.26L51.10 278.26M371.20 278.26L365.70 278.26M45.60 267.59L51.10 267.59M371.20 267.59L365.70 267.59M45.60 260.02L51.10 260.02M371.20 260.02L365.70 260.02M45.60 254.14L51.10 254.14M371.20 254.14L365.70 254.14M45.60 249.34L51.10 249.34M371.20 249.34L365.70 249.34M45.60 245.29L51.10 245.29M371.20 245.29L365.70 245.29M45.60 241.77L51.10 241.77M371.20 241.77L365.70 241.77M45.60 238.67L51.10 238.67M371.20 238.67L365.70 238.67M45.60 235.90L56.60 235.90M371.20 235.90L360.20 235.90M45.60 217.66L51.10 217.66M371.20 217.66L365.70 217.66M45.60 206.99L51.10 206.99M371.20 206.99L365.70 206.99M45.60 199.42L51.10 199.42M371.20 199.42L365.70 199.42M45.60 193.54L51.10 193.54M371.20 193.54L365.70 193.54M45.60 188.74L51.10 188.74M371.20 188.74L365.70 188.74M45.60 184.69L51.10 184.69M371.20 184.69L365.70 184.69M45.60 181.17L51.10 181.17M371.20 181.17L365.70 181.17M45.60 178.07L51.10 178.07M371.20 178.07L365.70 178.07M45.60 175.30L56.60 175.30M371.20 175.30L360.20 175.30M45.60 157.06L51.10 157.06M371.20 157.06L365.70 157.06M45.60 146.39L51.10 146.39M371.20 146.39L365.70 146.39M45.60 138.82L51.10 138.82M371.20 138.82L365.70 138.82M45.60 132.94L51.10 132.94M371.20 132.94L365.70 132.94M45.60 128.14L51.10 128.14M371.20 128.14L365.70 128.14M45.60 124.09L51.10 124.09M371.20 124.09L365.70 124.09M45.60 120.57L51.10 120.57M371.20 120.57L365.70 120.57M45.60 117.47L51.10 117.47M371.20 117.47L365.70 117.47M45.60 114.70L56.60 114.70M371.20 114.70L360.20 114.70M45.60 96.46L51.10 96.46M371.20 96.46L365.70 96.46M45.60 85.79L51.10 85.79M371.20 85.79L365.70 85.79M45.60 78.22L51.10 78.22M371.20 78.22L365.70 78.22M45.60 72.34L51.10 72.34M371.20 72.34L365.70 72.34M45.60 67.54L51.10 67.54M371.20 67.54L365.70 67.54M45.60 63.49L51.10 63.49M371.20 63.49L365.70 63.49M45.60 59.97L51.10 59.97M371.20 59.97L365.70 59.97M45.60 56.87L51.10 56.87M371.20 56.87L365.70 56.87M45.60 54.10L56.60 54.10M371.20 54.10L360.20 54.10M45.60 35.86L51.10 35.86M371.20 35.86L365.70 35.86M45.60 25.19L51.10 25.19M371.20 25.19L365.70 25.19M45.60 17.62L51.10 17.62M371.20 17.62L365.70 17.62M45.60 458.91L52.60 458.91M371.20 458.91L364.20 458.91M45.60 442.91L51.00 442.91M371.20 442.91L365.80 442.91M45.60 429.39L51.00 429.39M371.20 429.39L365.80 429.39M45.60 417.68L51.00 417.68M371.20 417.68L365.80 417.68M45.60 407.34L51.00 407.34M371.20 407.34L365.80 407.34M45.60 398.10L52.60 398.10M371.20 398.10L364.20 398.10M45.60 389.74L51.00 389.74M371.20 389.74L365.80 389.74M45.60 382.11L51.00 382.11M371.20 382.11L365.80 382.11M45.60 375.08L51.00 375.08M371.20 375.08L365.80 375.08M45.60 368.58L51.00 368.58M371.20 368.58L365.80 368.58M45.60 362.53L51.00 362.53M371.20 362.53L365.80 362.53M45.60 356.87L51.00 356.87M371.20 356.87L365.80 356.87M45.60 351.55L51.00 351.55M371.20 351.55L365.80 351.55M45.60 346.53L51.00 346.53M371.20 346.53L365.80 346.53M45.60 341.79L51.00 341.79M371.20 341.79L365.80 341.79M45.60 337.29L52.60 337.29M371.20 337.29L364.20 337.29M45.60 333.01L51.00 333.01M371.20 333.01L365.80 333.01M45.60 328.93L51.00 328.93M371.20 328.93L365.80 328.93M45.60 325.03L51.00 325.03M371.20 325.03L365.80 325.03M45.60 321.30L51.00 321.30M371.20 321.30L365.80 321.30M45.60 317.72L51.00 317.72M371.20 317.72L365.80 317.72" stroke="#000" stroke-width="0.95" fill="none"/>
<text x="51.5" y="13.8" font-size="12.1">13000 GeV pp</text>
<text x="366.2" y="13.6" font-size="12.3" text-anchor="end">Z+Jet</text>
<text x="86.3" y="41.8" font-size="12.07">Transmin region, 60</text>
<text x="195.9" y="42.0" font-size="13.3">&lt;</text>
<text x="206.5" y="41.8" font-size="11.95">p</text>
<text x="210.9" y="36.8" font-size="8.4">Z</text>
<text x="211.3" y="48.8" font-size="8.4">T</text>
<text x="219.6" y="41.8" font-size="12.15">&lt; 80 [GeV], inclusive</text>
<g font-size="12.4" text-anchor="end">
<text x="41.0" y="59.7" font-size="11.8">10</text>
<text x="41.2" y="120.0">1</text>
<text x="40.4" y="180.5" font-size="11.3">10<tspan font-size="7.8" dy="-4.6" dx="0.3">&#8722;1</tspan></text>
<text x="40.4" y="240.6" font-size="11.3">10<tspan font-size="7.8" dy="-4.6" dx="0.3">&#8722;2</tspan></text>
<text x="40.4" y="301.8" font-size="11.3">10<tspan font-size="7.8" dy="-4.6" dx="0.3">&#8722;3</tspan></text>
</g>
<g font-size="12.4" text-anchor="end">
<text x="39.0" y="341.9">2</text>
<text x="38.6" y="402.8">1</text>
<text x="39.0" y="462.8">0.5</text>
<text x="373.6" y="341.3" text-anchor="start">2</text>
<text x="373.9" y="403.4" text-anchor="start">1</text>
<text x="373.5" y="462.6" text-anchor="start">0.5</text>
<text x="121.2" y="489.0" text-anchor="middle">1</text>
<text x="246.2" y="489.0" text-anchor="middle">2</text>
<text x="371.0" y="489.0" text-anchor="middle">3</text>
</g>
<text x="289.6" y="501.6" font-size="12.2">Mean p</text>
<text x="330.9" y="507.9" font-size="8.4">T</text>
<text x="335.6" y="501.6" font-size="12.1">/d&#951; d&#981;</text>
<text transform="translate(15.3,168) rotate(-90)" font-size="12">1/N<tspan font-size="8.5" dy="3">ev</tspan><tspan dy="-3"> dN</tspan><tspan font-size="8.5" dy="3">ev</tspan><tspan dy="-3">/d mean p</tspan></text>
<text transform="translate(21.9,60.9) rotate(-90)" font-size="8.2">T</text>
<text transform="translate(15.3,52.8) rotate(-90)" font-size="12">[GeV]</text>
<text transform="translate(9.0,21.0) rotate(-90)" font-size="8.2">1</text>
<text transform="translate(18.2,427.8) rotate(-90)" font-size="9.3">Ratio to ATLAS</text>
<text transform="translate(380.9,124.5) rotate(-90)" font-size="9.2" fill="#6a6a6a">Rivet 4.1.0, &#8805; 3.7M events</text>
<text transform="translate(380.9,309.2) rotate(-90)" font-size="9.2" fill="#6a6a6a">mcplots.cern.ch [arXiv:2401.10621]</text>
<rect x="73.50" y="208.00" width="6" height="6" fill="#000"/>
<text x="93.8" y="214.1" font-size="9.55">ATLAS</text>
<line x1="63.8" y1="224.00" x2="88.3" y2="224.00" stroke="#c06a22" stroke-width="1.0" stroke-dasharray="2.7,1.7"/>
<circle cx="76.50" cy="224.00" r="2.9" fill="none" stroke="#c06a22" stroke-width="1.1"/>
<text x="93.8" y="227.1" font-size="9.55">Herwig++ 2.7.1 default</text>
<line x1="63.8" y1="236.90" x2="88.3" y2="236.90" stroke="#4aa832" stroke-width="1.0" stroke-dasharray="2.7,1.7"/>
<rect x="73.70" y="234.10" width="5.6" height="5.6" fill="none" stroke="#4aa832" stroke-width="1.1"/>
<text x="93.8" y="240.0" font-size="9.55">Herwig 7.2.1 default</text>
<line x1="63.8" y1="249.90" x2="88.3" y2="249.90" stroke="#0000ff" stroke-width="1.15"/>
<path d="M76.50 246.40L79.60 252.40L73.40 252.40Z" fill="#0000ff"/>
<text x="93.8" y="253.0" font-size="9.55">Pythia 8.315 default</text>
<line x1="63.8" y1="262.90" x2="88.3" y2="262.90" stroke="#1598c0" stroke-width="1.1" stroke-dasharray="4,2,1,2"/>
<path d="M76.50 266.40L79.60 260.40L73.40 260.40Z" fill="#1598c0"/>
<text x="93.8" y="266.0" font-size="9.55">Pythia 8.315 vincia-default</text>
<line x1="63.8" y1="275.80" x2="88.3" y2="275.80" stroke="#ff0000" stroke-width="1.1" stroke-dasharray="1.2,1.1"/>
<path d="M76.50 272.50L78.70 275.80L76.50 279.10L74.30 275.80Z" fill="#ff0000"/>
<text x="93.8" y="278.9" font-size="9.55">Sherpa 2.2.9 default</text>
</svg></body></html>
